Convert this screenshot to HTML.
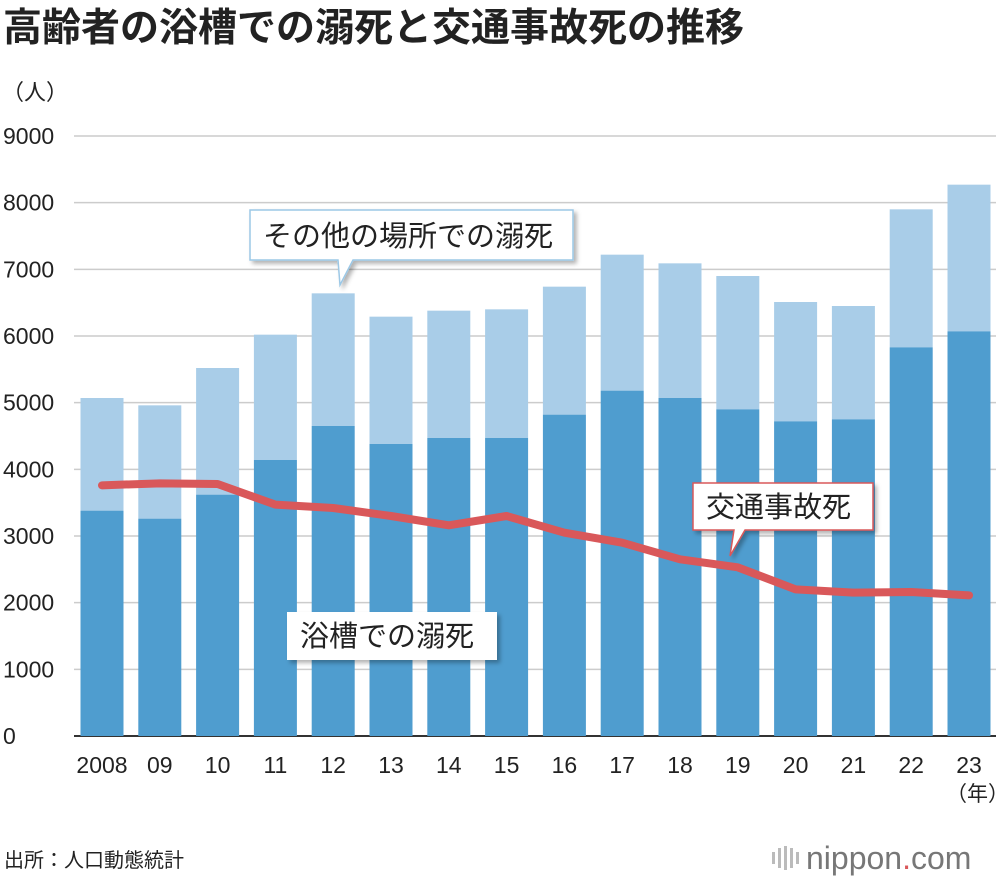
<!DOCTYPE html>
<html><head><meta charset="utf-8"><style>
body{margin:0;background:#fff;width:1000px;height:880px;overflow:hidden;font-family:"Liberation Sans","Noto Sans CJK JP",sans-serif}
svg text{font-family:"Liberation Sans","Noto Sans CJK JP",sans-serif}
</style></head><body>
<svg id="c" width="1000" height="880">
<defs><filter id="sh" x="-10%" y="-10%" width="130%" height="140%"><feDropShadow dx="3" dy="3" stdDeviation="2" flood-color="#000" flood-opacity="0.3"/></filter></defs>
<text x="3" y="41" font-size="39" font-weight="bold" fill="#222">高齢者の浴槽での溺死と交通事故死の推移</text>
<text x="2" y="100" font-size="22" fill="#222">（人）</text>
<g id="grid"></g><g id="bars"></g><g id="line"></g><g id="xl"></g>
<g filter="url(#sh)">
<path d="M250 210 H573 V260 H353 L340 285 L338 260 H250 Z" fill="#fff" stroke="#9cc8e6" stroke-width="1.5"/></g>
<text x="263" y="246" font-size="29" fill="#222">その他の場所での溺死</text>
<g filter="url(#sh)">
<path d="M693 483 H873 V530 H745 L730 556 L734 530 H693 Z" fill="#fff" stroke="#d9585a" stroke-width="1.5"/></g>
<text x="706" y="517" font-size="29" fill="#222">交通事故死</text>
<g filter="url(#sh)">
<rect x="287" y="612" width="210" height="48" fill="#fff"/></g>
<text x="300" y="646" font-size="29" fill="#222">浴槽での溺死</text>
<text x="946" y="801" font-size="21" fill="#222">（年）</text>
<text x="4" y="867" font-size="20" fill="#222">出所：人口動態統計</text>
<g fill="#bbb"><rect x="772" y="852" width="3" height="12"/><rect x="778" y="848" width="3" height="20"/><rect x="784" y="846" width="3" height="24"/><rect x="790" y="848" width="3" height="20"/><rect x="796" y="852" width="3" height="12"/></g>
<text x="806" y="869" font-size="32" fill="#777">nippon<tspan fill="#d9585a">.</tspan>com</text>
</svg>
<script>
const categories=["2008","09","10","11","12","13","14","15","16","17","18","19","20","21","22","23"];
const bathDeaths=[3380,3260,3620,4140,4650,4380,4470,4470,4820,5180,5070,4900,4720,4750,5830,6070];
const totalDrowning=[5070,4960,5520,6020,6640,6290,6380,6400,6740,7220,7090,6900,6510,6450,7900,8270];
const trafficDeaths=[3760,3790,3780,3470,3420,3300,3160,3300,3050,2900,2650,2530,2200,2150,2160,2110];
const yTicks=[0,1000,2000,3000,4000,5000,6000,7000,8000,9000];
const NS="http://www.w3.org/2000/svg";
const y=v=>736-v*600/9000;
const x=i=>102+i*57.8;
const bw=43;
function mk(t,a,p){const e=document.createElementNS(NS,t);for(const k in a)e.setAttribute(k,a[k]);p.appendChild(e);return e;}
const g=document.getElementById('grid');
yTicks.forEach(t=>{
 const l=mk('line',{x1:74,x2:996,y1:y(t),y2:y(t),stroke:t?'#ccc':'#333','stroke-width':t?1.5:2},g);
 
 
 const tx=mk('text',{x:3,y:y(t)+8,'font-size':23,fill:'#222'},g);tx.textContent=t;
 
 
});
const b=document.getElementById('bars'),xl=document.getElementById('xl');
categories.forEach((c,i)=>{
 const r1=mk('rect',{x:x(i)-bw/2,y:y(totalDrowning[i]),width:bw,height:y(bathDeaths[i])-y(totalDrowning[i]),fill:'#a9cde8'},b);
 
 
 const r2=mk('rect',{x:x(i)-bw/2,y:y(bathDeaths[i]),width:bw,height:736-y(bathDeaths[i]),fill:'#4f9dcf'},b);
 
 
 const t=mk('text',{x:x(i),y:773,'font-size':23,fill:'#222','text-anchor':'middle'},xl);t.textContent=c;
 
 
});
const p=mk('polyline',{points:trafficDeaths.map((v,i)=>x(i)+','+y(v)).join(' '),fill:'none',stroke:'#d9585a','stroke-width':8,'stroke-linejoin':'round','stroke-linecap':'round'},document.getElementById('line'));


</script>
</body></html>
